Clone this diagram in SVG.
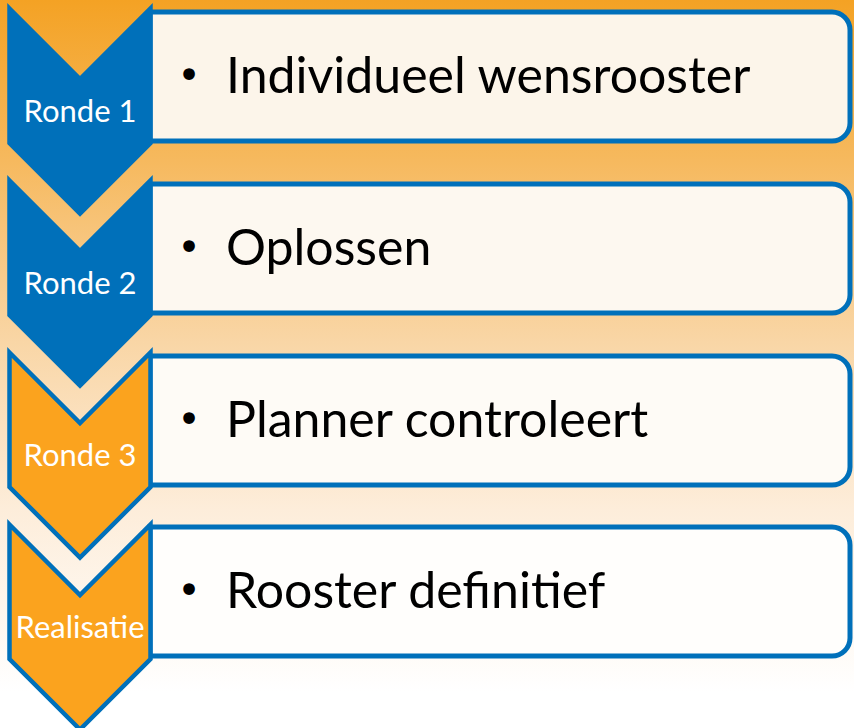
<svg xmlns="http://www.w3.org/2000/svg" width="854" height="728" viewBox="0 0 854 728">
<defs>
<linearGradient id="bg" x1="0" y1="0" x2="0" y2="1">
<stop offset="0" stop-color="#F4A224"/>
<stop offset="0.22" stop-color="#F6B95E"/>
<stop offset="0.47" stop-color="#F9D6A6"/>
<stop offset="0.7" stop-color="#FDEDDA"/>
<stop offset="0.95" stop-color="#FFFFFF"/>
</linearGradient>
<polygon id="chev" points="9.5,8.5 80,79 150.5,8.5 150.5,143 80,213.5 9.5,143"/>
<path id="boxshape" d="M150,12 H832 A18,18 0 0 1 850,30 V123 A18,18 0 0 1 832,141 H150 Z"/>
</defs>
<style>
.box{stroke:#0070BA;stroke-width:5}
.chev{stroke:#0070BA;stroke-width:4.5;stroke-linejoin:miter}
.blue{fill:#0070BA}
.orange{fill:#FBA31E}
.lbl{font-family:Lato,"Open Sans",sans-serif;font-size:31px;fill:#FFFFFF;text-anchor:middle}
.txt{font-family:Lato,"Open Sans",sans-serif;font-size:50px;fill:#000000}
.bul{font-family:"DejaVu Sans",sans-serif;font-size:40px;fill:#000000;text-anchor:middle}
</style>
<rect x="0" y="0" width="854" height="728" fill="url(#bg)"/>

<g id="box1">
<use href="#boxshape" class="box" fill="#FCF5EA"/>
<text class="bul" x="189" y="89">•</text>
<text class="txt" x="226" y="93">Individueel wensrooster</text>
</g>
<g id="box2">
<use href="#boxshape" class="box" fill="#FDF8F0" transform="translate(0,172)"/>
<text class="bul" x="189" y="261">•</text>
<text class="txt" x="226" y="265">Oplossen</text>
</g>
<g id="box3">
<use href="#boxshape" class="box" fill="#FEFBF6" transform="translate(0,344)"/>
<text class="bul" x="189" y="433">•</text>
<text class="txt" x="226" y="437">Planner controleert</text>
</g>
<g id="box4">
<use href="#boxshape" class="box" fill="#FFFEFC" transform="translate(0,515)"/>
<text class="bul" x="189" y="604">•</text>
<text class="txt" x="226" y="608">Rooster definitief</text>
</g>

<g id="chevron1">
<use href="#chev" class="chev blue"/>
<text class="lbl" x="80" y="122">Ronde 1</text>
</g>
<g id="chevron2">
<use href="#chev" class="chev blue" transform="translate(0,172)"/>
<text class="lbl" x="80" y="294">Ronde 2</text>
</g>
<g id="chevron3">
<use href="#chev" class="chev orange" transform="translate(0,344)"/>
<text class="lbl" x="80" y="466">Ronde 3</text>
</g>
<g id="chevron4">
<use href="#chev" class="chev orange" transform="translate(0,516)"/>
<text class="lbl" x="80" y="638">Realisatie</text>
</g>
</svg>
